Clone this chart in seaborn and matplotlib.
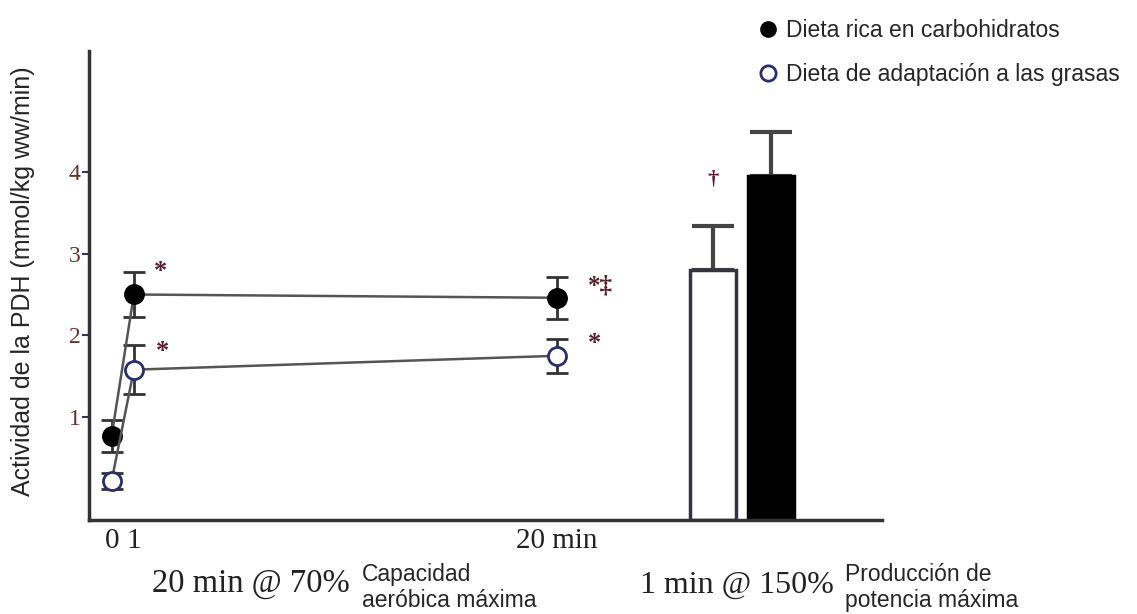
import numpy as np
import pandas as pd
import matplotlib
matplotlib.use("Agg")
import matplotlib.pyplot as plt
from matplotlib.lines import Line2D
import seaborn as sns

# -----------------------------
# DATA
# -----------------------------

time_min = [0, 1, 20]
time_labels = ["0", "1", "20 min"]

cho_mean = [0.77, 2.50, 2.46]
cho_err = [0.20, 0.27, 0.26]

fat_mean = [0.22, 1.58, 1.75]
fat_err = [0.10, 0.30, 0.21]

sprint_pos = [27.0, 29.6]
sprint_mean = [2.80, 3.95]
sprint_err = [0.54, 0.54]

y_ticks = [1, 2, 3, 4]

legend_labels = [
    "Dieta rica en carbohidratos",
    "Dieta de adaptación a las grasas",
]

df = pd.DataFrame({
    "tiempo": time_min * 2,
    "pdh": cho_mean + fat_mean,
    "dieta": ["cho"] * 3 + ["fat"] * 3,
})

# -----------------------------
# STYLE
# -----------------------------

sns.set_style("white")
plt.rcParams["font.family"] = ["Liberation Sans", "DejaVu Sans"]

serif = ["Liberation Serif", "DejaVu Serif"]
mark_color = "#5a2030"
navy = "#2a2e70"
y_bottom = -0.26

fig = plt.figure(figsize=(11.37, 6.14), dpi=100)
ax = fig.add_axes([0.078, 0.153, 0.698, 0.764])

# -----------------------------
# ERROR BARS + LINES
# -----------------------------

ax.errorbar(time_min, cho_mean, yerr=cho_err, fmt="none",
            ecolor="#333333", elinewidth=2, capsize=8, capthick=2, zorder=2)
ax.errorbar(time_min, fat_mean, yerr=fat_err, fmt="none",
            ecolor="#333333", elinewidth=2, capsize=8, capthick=2, zorder=2)

sns.lineplot(
    data=df[df["dieta"] == "cho"],
    x="tiempo", y="pdh",
    color="#555555", linewidth=1.8,
    marker="o", markersize=14,
    markerfacecolor="black", markeredgecolor="black",
    markeredgewidth=1, ax=ax, zorder=3
)

sns.lineplot(
    data=df[df["dieta"] == "fat"],
    x="tiempo", y="pdh",
    color="#555555", linewidth=1.8,
    marker="o", markersize=13,
    markerfacecolor="white", markeredgecolor=navy,
    markeredgewidth=2, ax=ax, zorder=3
)

# -----------------------------
# SPRINT BARS (drawn from the x axis line)
# -----------------------------

ax.bar(sprint_pos, [m - y_bottom for m in sprint_mean], bottom=y_bottom,
       width=2.1, color=["white", "black"], edgecolor=["#333344", "black"],
       linewidth=2.5, zorder=2)
ax.errorbar(sprint_pos, sprint_mean,
            yerr=[[0, 0], sprint_err], fmt="none",
            ecolor="#444444", elinewidth=3, capsize=15, capthick=3, zorder=1)

# -----------------------------
# SIGNIFICANCE MARKS
# -----------------------------

ax.text(1.9, 2.78, "*", family=serif, fontsize=19, fontweight="bold",
        color=mark_color, ha="left", va="center")
ax.text(2.0, 1.80, "*", family=serif, fontsize=19, fontweight="bold",
        color=mark_color, ha="left", va="center")
ax.text(21.4, 2.60, "*‡", family=serif, fontsize=18, fontweight="bold",
        color=mark_color, ha="left", va="center")
ax.text(21.4, 1.90, "*", family=serif, fontsize=19, fontweight="bold",
        color=mark_color, ha="left", va="center")
ax.text(27.0, 3.90, "†", family=serif, fontsize=16, fontweight="bold",
        color=mark_color, ha="center", va="center")

# -----------------------------
# AXES
# -----------------------------

ax.set_xlim(-1.03, 34.6)
ax.set_ylim(y_bottom, 5.48)

ax.set_xticks(time_min)
ax.set_xticklabels(time_labels, family=serif, fontsize=21, color="#222222")
ax.tick_params(axis="x", length=0, pad=6)

ax.set_yticks(y_ticks)
ax.set_yticklabels([str(v) for v in y_ticks], family=serif,
                   fontsize=17, color="#6a3030")
ax.tick_params(axis="y", direction="out", length=5, width=1.5,
               color="#333355", pad=1, left=True)

for side in ["top", "right"]:
    ax.spines[side].set_visible(False)
for side in ["left", "bottom"]:
    ax.spines[side].set_color("#333333")
    ax.spines[side].set_linewidth(2.5)

ax.set_xlabel("")
ax.set_ylabel("Actividad de la PDH (mmol/kg ww/min)", fontsize=18)
ax.yaxis.set_label_coords(-0.068, 0.51)

# -----------------------------
# LEGEND
# -----------------------------

handles = [
    Line2D([], [], linestyle="none", marker="o", markersize=11,
           markerfacecolor="black", markeredgecolor="black"),
    Line2D([], [], linestyle="none", marker="o", markersize=11,
           markerfacecolor="white", markeredgecolor=navy, markeredgewidth=2),
]
fig.legend(handles, legend_labels, loc="upper left",
           bbox_to_anchor=(0.655, 0.987), frameon=False, fontsize=16.5,
           borderpad=0, handlelength=1.0, handletextpad=0.3,
           labelspacing=0.9)

# -----------------------------
# BOTTOM LABELS
# -----------------------------

fig.text(0.134, 0.050, "20 min @ 70%", family=serif, fontsize=23.5,
         color="#222222", ha="left", va="center")
fig.text(0.318, 0.043, "Capacidad\naeróbica máxima", fontsize=16.5,
         ha="left", va="center", linespacing=1.15)
fig.text(0.563, 0.047, "1 min @ 150%", family=serif, fontsize=23,
         color="#222222", ha="left", va="center")
fig.text(0.743, 0.043, "Producción de\npotencia máxima", fontsize=16.5,
         ha="left", va="center", linespacing=1.15)

plt.savefig("out.png", dpi=100)
